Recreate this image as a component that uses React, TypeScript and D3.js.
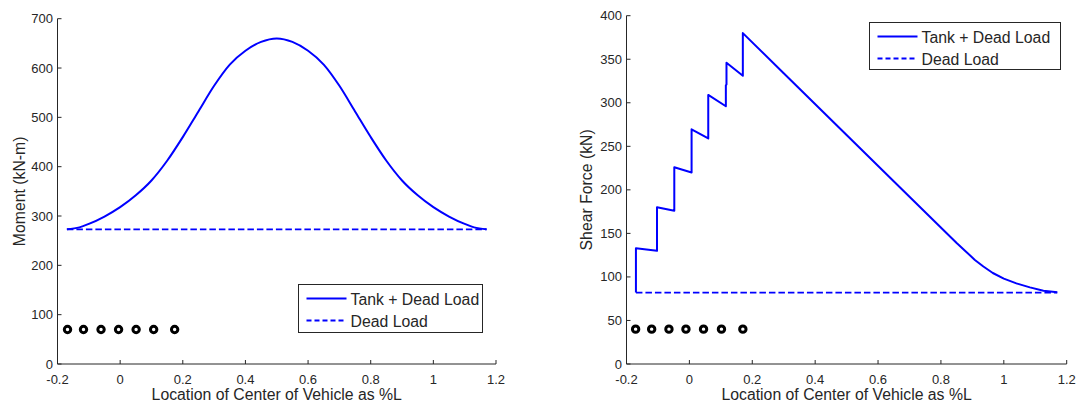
import React from 'react';
import * as d3 from 'd3';

const W = 1078;
const H = 406;

// ---- data ----
const momentX = [-0.17, -0.13, -0.1, -0.05, 0, 0.05, 0.1, 0.15, 0.2, 0.25, 0.3, 0.35, 0.4, 0.45, 0.5, 0.55, 0.6, 0.65, 0.7, 0.75, 0.8, 0.85, 0.9, 0.95, 1.0, 1.05, 1.1, 1.13, 1.17];
const momentTank = [273, 277, 284, 299, 318, 342, 372, 412, 460, 512, 564, 607, 635, 653, 660, 653, 635, 607, 564, 512, 460, 412, 372, 342, 318, 299, 284, 277, 273];
const deadMomentX = [-0.17, 1.17];
const deadMoment = [273, 273];

const shearX = [-0.17, -0.17, -0.103, -0.103, -0.048, -0.048, 0.007, 0.007, 0.06, 0.06, 0.116, 0.116, 0.118, 0.118, 0.17, 0.17, 0.3, 0.5, 0.7, 0.85, 0.88, 0.908, 0.935, 0.965, 1.0, 1.04, 1.083, 1.126, 1.17];
const shearTank = [82, 133, 130, 180, 176, 226, 220, 269.5, 259, 309, 296, 320, 321, 346, 331, 380, 334, 263, 192, 139, 129, 119.5, 112, 104.5, 98, 92.6, 88, 84.2, 82.3];
const deadShearX = [-0.17, 1.17];
const deadShear = [82, 82];

const axlesMomentX = [-0.168, -0.117, -0.061, -0.005, 0.051, 0.107, 0.174];
const axlesMomentY = [70, 70, 70, 70, 70, 70, 70];
const axlesShearX = [-0.171, -0.12, -0.065, -0.011, 0.045, 0.102, 0.17];
const axlesShearY = [40, 40, 40, 40, 40, 40, 40];

const xTicks = [-0.2, 0, 0.2, 0.4, 0.6, 0.8, 1, 1.2];
const momentTicks = [0, 100, 200, 300, 400, 500, 600, 700];
const shearTicks = [0, 50, 100, 150, 200, 250, 300, 350, 400];
const legendLabels = ['Tank + Dead Load', 'Dead Load'];
const xLabel = 'Location of Center of Vehicle as %L';
const momentLabel = 'Moment (kN-m)';
const shearLabel = 'Shear Force (kN)';

const FONT = '"Liberation Sans", Arial, Helvetica, sans-serif';
const BLUE = '#0000ff';
const INK = '#262626';

type Frame = { left: number; right: number; top: number; bottom: number };
type LegendPos = { x: number; y: number; w: number; h: number };

function Panel(props: {
  frame: Frame;
  yMax: number;
  yTicks: number[];
  yLabel: string;
  yLabelX: number;
  tankX: number[];
  tankY: number[];
  smooth: boolean;
  deadX: number[];
  deadY: number[];
  axX: number[];
  axY: number[];
  legend: LegendPos;
}) {
  const { frame, yMax, yTicks, yLabel, yLabelX, tankX, tankY, smooth, deadX, deadY, axX, axY, legend } = props;
  const x = d3.scaleLinear().domain([-0.2, 1.2]).range([frame.left, frame.right]);
  const y = d3.scaleLinear().domain([0, yMax]).range([frame.bottom, frame.top]);
  const line = d3
    .line<[number, number]>()
    .x((d) => x(d[0]))
    .y((d) => y(d[1]));
  const tankLine = d3
    .line<[number, number]>()
    .x((d) => x(d[0]))
    .y((d) => y(d[1]))
    .curve(smooth ? d3.curveMonotoneX : d3.curveLinear);
  const tankPts = tankX.map((v, i) => [v, tankY[i]] as [number, number]);
  const deadPts = deadX.map((v, i) => [v, deadY[i]] as [number, number]);
  const cx = (frame.left + frame.right) / 2;
  const cy = (frame.top + frame.bottom) / 2;
  return (
    <g>
      {/* axes */}
      <line x1={frame.left} x2={frame.right} y1={frame.bottom} y2={frame.bottom} stroke={INK} strokeWidth={1} />
      <line x1={frame.left} x2={frame.left} y1={frame.top} y2={frame.bottom} stroke={INK} strokeWidth={1} />
      {xTicks.map((t) => (
        <g key={'xt' + t}>
          <line x1={x(t)} x2={x(t)} y1={frame.bottom} y2={frame.bottom - 4} stroke={INK} strokeWidth={1} />
          <text x={x(t)} y={frame.bottom + 20} textAnchor="middle" fontSize={13} fill={INK}>
            {String(t)}
          </text>
        </g>
      ))}
      {yTicks.map((t) => (
        <g key={'yt' + t}>
          <line x1={frame.left} x2={frame.left + 4} y1={y(t)} y2={y(t)} stroke={INK} strokeWidth={1} />
          <text x={frame.left - 4.5} y={y(t) + 4.5} textAnchor="end" fontSize={13} fill={INK}>
            {String(t)}
          </text>
        </g>
      ))}
      <text x={cx} y={frame.bottom + 36} textAnchor="middle" fontSize={15.8} fill={INK}>
        {xLabel}
      </text>
      <text transform={`translate(${yLabelX},${cy}) rotate(-90)`} textAnchor="middle" fontSize={15.8} fill={INK}>
        {yLabel}
      </text>
      {/* series */}
      <path d={line(deadPts) || ''} fill="none" stroke={BLUE} strokeWidth={1.8} strokeDasharray="6.5,3" />
      <path d={tankLine(tankPts) || ''} fill="none" stroke={BLUE} strokeWidth={2} strokeLinejoin="round" />
      {axX.map((v, i) => (
        <circle key={'ax' + i} cx={x(v)} cy={y(axY[i])} r={3.2} fill="#fff" stroke="#000" strokeWidth={3} />
      ))}
      {/* legend */}
      <rect x={legend.x} y={legend.y} width={legend.w} height={legend.h} fill="#fff" stroke={INK} strokeWidth={1} />
      <line x1={legend.x + 8} x2={legend.x + 48} y1={legend.y + 14} y2={legend.y + 14} stroke={BLUE} strokeWidth={1.8} />
      <line x1={legend.x + 8} x2={legend.x + 48} y1={legend.y + 36} y2={legend.y + 36} stroke={BLUE} strokeWidth={1.8} strokeDasharray="5,3" />
      <text x={legend.x + 52} y={legend.y + 20} fontSize={15.8} fill={INK}>
        {legendLabels[0]}
      </text>
      <text x={legend.x + 52} y={legend.y + 42} fontSize={15.8} fill={INK}>
        {legendLabels[1]}
      </text>
    </g>
  );
}

export default function App() {
  return (
    <svg
      width={W}
      height={H}
      viewBox={`0 0 ${W} ${H}`}
      style={{ position: 'absolute', left: 0, top: 0, background: '#fff', fontFamily: FONT }}
    >
      <rect x={0} y={0} width={W} height={H} fill="#fff" />
      <Panel
        frame={{ left: 57.5, right: 496, top: 18.7, bottom: 364 }}
        yMax={700}
        yTicks={momentTicks}
        yLabel={momentLabel}
        yLabelX={25}
        tankX={momentX}
        tankY={momentTank}
        smooth={true}
        deadX={deadMomentX}
        deadY={deadMoment}
        axX={axlesMomentX}
        axY={axlesMomentY}
        legend={{ x: 298.5, y: 284.5, w: 184, h: 48 }}
      />
      <Panel
        frame={{ left: 626.5, right: 1066.7, top: 15.7, bottom: 364 }}
        yMax={400}
        yTicks={shearTicks}
        yLabel={shearLabel}
        yLabelX={592}
        tankX={shearX}
        tankY={shearTank}
        smooth={false}
        deadX={deadShearX}
        deadY={deadShear}
        axX={axlesShearX}
        axY={axlesShearY}
        legend={{ x: 869.5, y: 22.5, w: 191, h: 47 }}
      />
    </svg>
  );
}
